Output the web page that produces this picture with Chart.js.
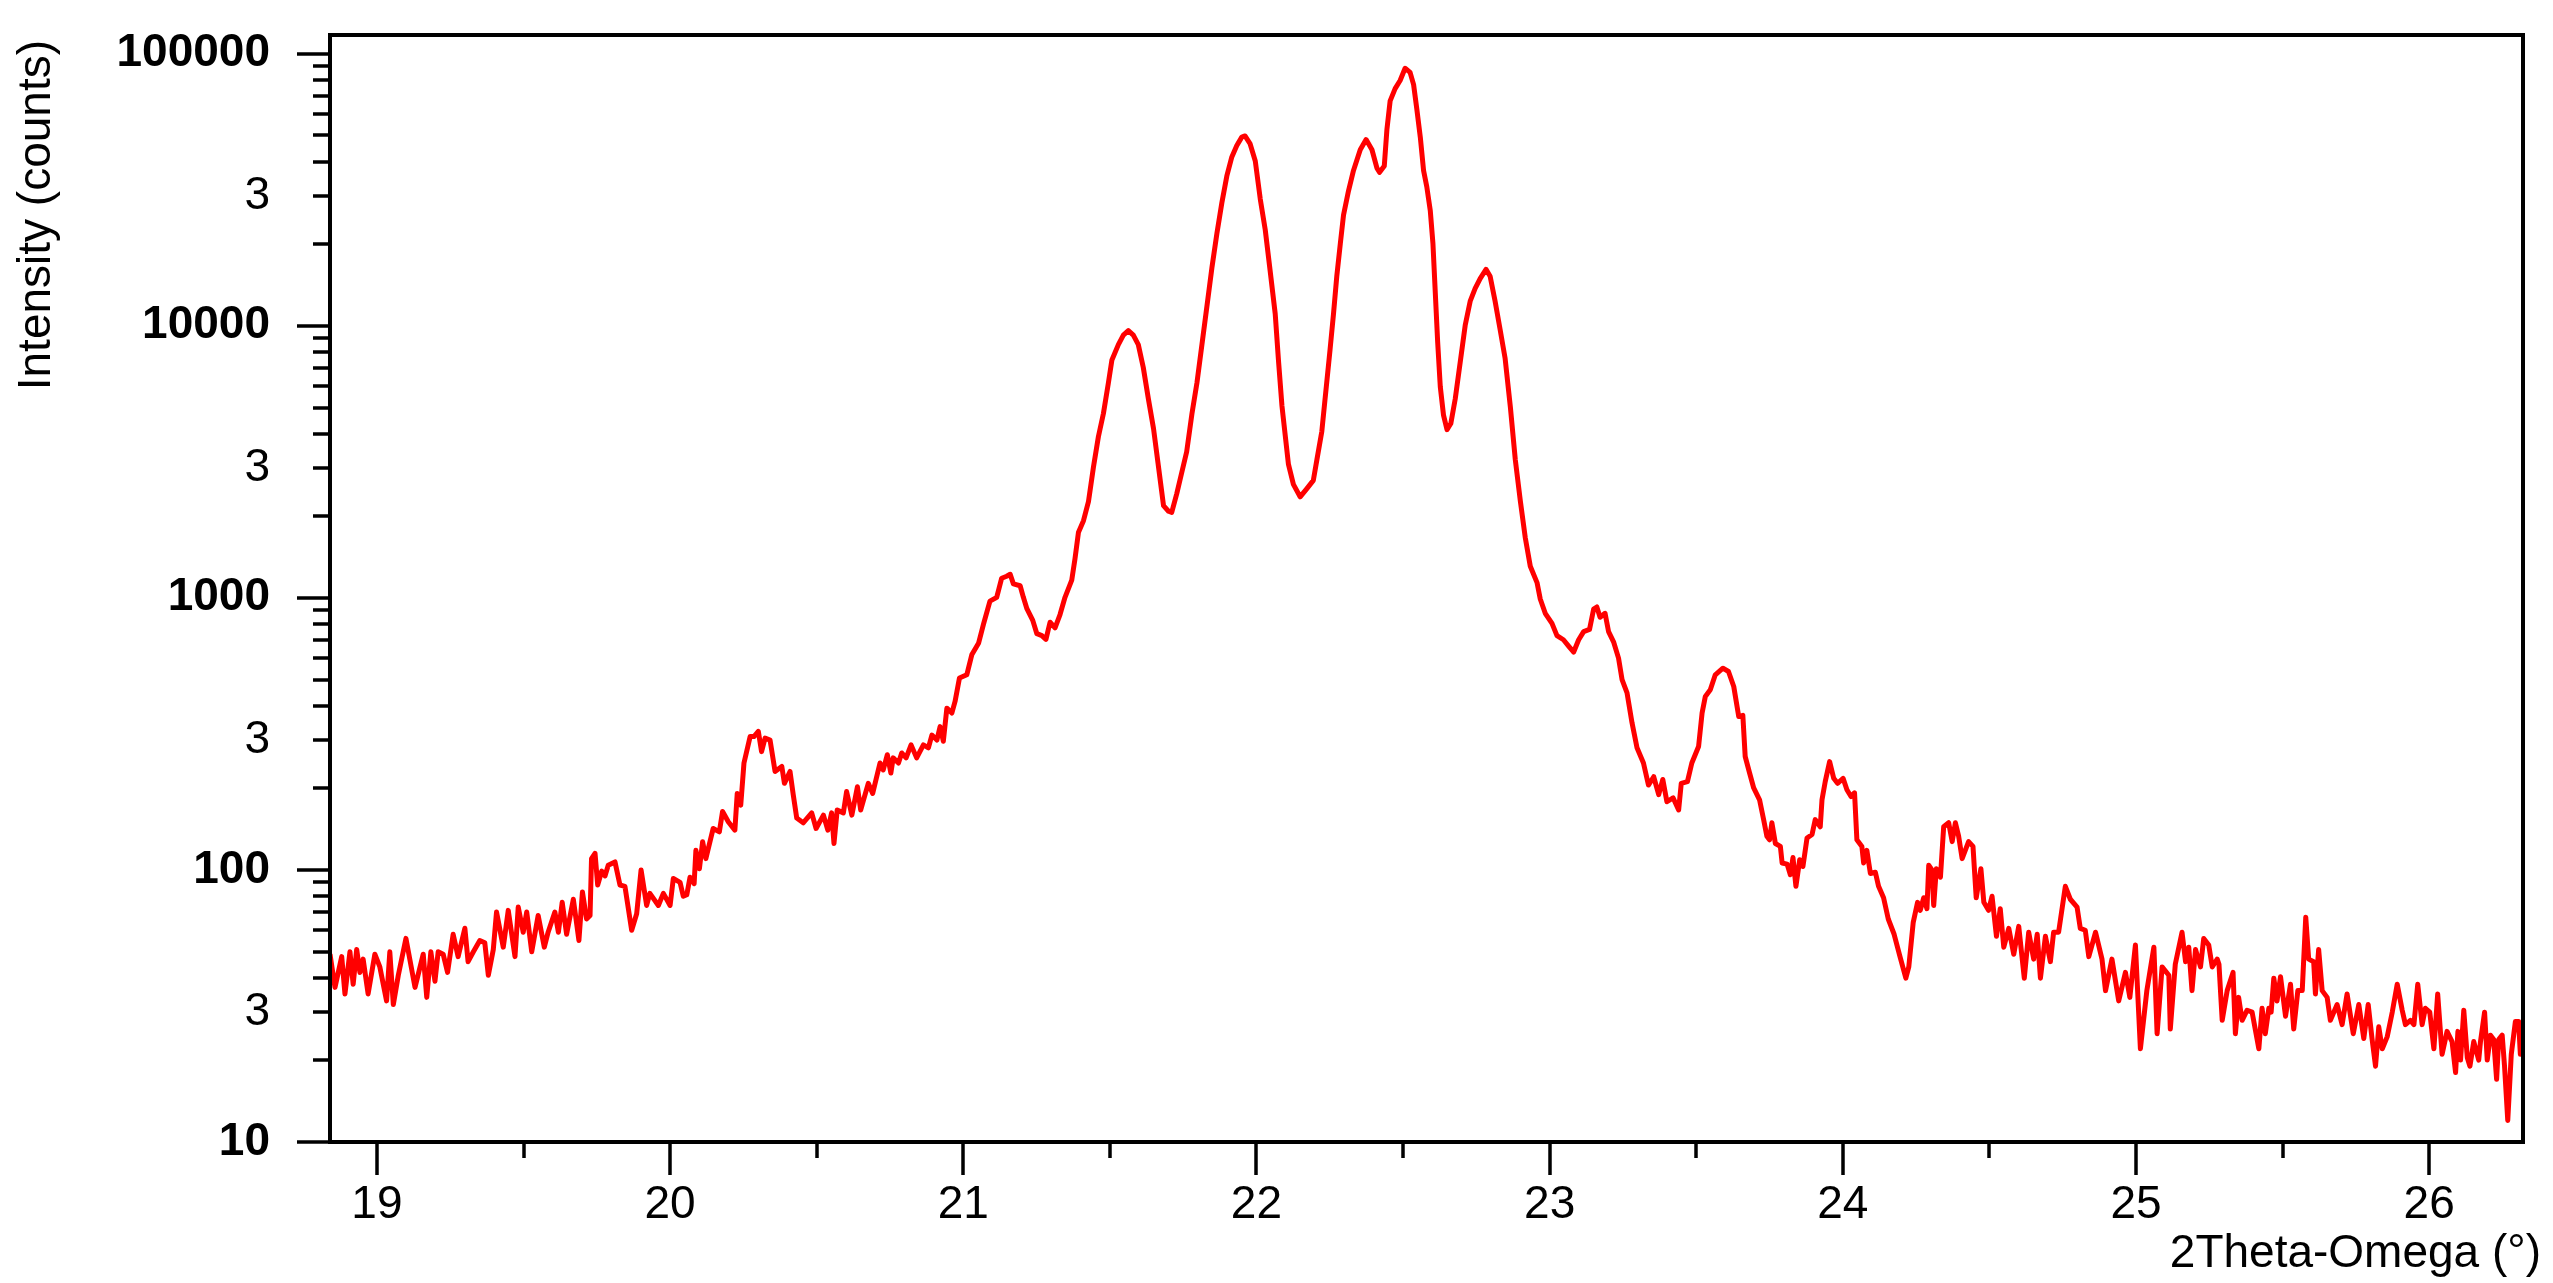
<!DOCTYPE html>
<html>
<head>
<meta charset="utf-8">
<title>2Theta-Omega scan</title>
<script src="https://cdn.jsdelivr.net/npm/chart.js@4.4.1/dist/chart.umd.min.js"></script>
<style>
  html, body { margin: 0; padding: 0; background: #fff; }
  canvas { display: block; }
</style>
</head>
<body>
<canvas id="scanChart" width="2553" height="1283"></canvas>
<script>
// 2Theta-Omega (deg) and intensity (counts)
const twoTheta = [
  18.840, 18.857, 18.880, 18.891, 18.908, 18.919, 18.931, 18.942, 18.953, 18.970,
  18.993, 19.010, 19.033, 19.044, 19.056, 19.073, 19.099, 19.130, 19.158, 19.170,
  19.184, 19.198, 19.209, 19.226, 19.241, 19.260, 19.277, 19.300, 19.311, 19.329,
  19.351, 19.368, 19.380, 19.397, 19.408, 19.431, 19.448, 19.471, 19.482, 19.499,
  19.511, 19.528, 19.550, 19.571, 19.584, 19.607, 19.619, 19.632, 19.647, 19.670,
  19.689, 19.701, 19.715, 19.727, 19.732, 19.744, 19.753, 19.767, 19.778, 19.789,
  19.812, 19.829, 19.846, 19.869, 19.886, 19.901, 19.920, 19.931, 19.960, 19.977,
  20.000, 20.011, 20.034, 20.045, 20.057, 20.068, 20.082, 20.088, 20.100, 20.111,
  20.122, 20.147, 20.168, 20.179, 20.199, 20.221, 20.229, 20.241, 20.252, 20.273,
  20.286, 20.301, 20.312, 20.324, 20.341, 20.358, 20.381, 20.390, 20.409, 20.420,
  20.432, 20.454, 20.483, 20.498, 20.523, 20.538, 20.551, 20.559, 20.570, 20.591,
  20.602, 20.620, 20.639, 20.650, 20.676, 20.691, 20.716, 20.727, 20.741, 20.753,
  20.761, 20.779, 20.790, 20.805, 20.822, 20.841, 20.864, 20.881, 20.893, 20.910,
  20.921, 20.932, 20.944, 20.961, 20.972, 20.987, 21.012, 21.029, 21.052, 21.069,
  21.091, 21.114, 21.131, 21.148, 21.160, 21.171, 21.194, 21.205, 21.217, 21.237,
  21.251, 21.268, 21.282, 21.296, 21.313, 21.330, 21.347, 21.370, 21.381, 21.393,
  21.410, 21.427, 21.444, 21.461, 21.478, 21.495, 21.507, 21.529, 21.546, 21.563,
  21.580, 21.597, 21.614, 21.631, 21.649, 21.666, 21.683, 21.700, 21.711, 21.728,
  21.745, 21.762, 21.780, 21.797, 21.814, 21.831, 21.848, 21.865, 21.882, 21.899,
  21.916, 21.933, 21.950, 21.961, 21.978, 21.996, 22.013, 22.030, 22.047, 22.064,
  22.075, 22.087, 22.109, 22.126, 22.149, 22.172, 22.194, 22.206, 22.223, 22.234,
  22.251, 22.263, 22.274, 22.286, 22.297, 22.314, 22.331, 22.354, 22.374, 22.394,
  22.411, 22.420, 22.436, 22.445, 22.456, 22.473, 22.490, 22.507, 22.524, 22.536,
  22.547, 22.559, 22.570, 22.581, 22.593, 22.602, 22.610, 22.618, 22.627, 22.638,
  22.650, 22.663, 22.678, 22.695, 22.712, 22.729, 22.746, 22.763, 22.783, 22.797,
  22.814, 22.831, 22.848, 22.866, 22.883, 22.900, 22.917, 22.934, 22.957, 22.968,
  22.985, 23.008, 23.025, 23.047, 23.064, 23.082, 23.099, 23.116, 23.136, 23.150,
  23.161, 23.172, 23.189, 23.201, 23.218, 23.235, 23.247, 23.264, 23.281, 23.298,
  23.320, 23.337, 23.355, 23.372, 23.386, 23.400, 23.421, 23.440, 23.449, 23.470,
  23.485, 23.508, 23.520, 23.531, 23.548, 23.565, 23.591, 23.610, 23.628, 23.645,
  23.659, 23.667, 23.682, 23.696, 23.716, 23.730, 23.741, 23.750, 23.758, 23.770,
  23.787, 23.793, 23.810, 23.821, 23.830, 23.840, 23.853, 23.864, 23.878, 23.895,
  23.906, 23.923, 23.929, 23.940, 23.955, 23.969, 23.982, 24.001, 24.014, 24.028,
  24.040, 24.048, 24.065, 24.071, 24.082, 24.094, 24.111, 24.122, 24.139, 24.155,
  24.175, 24.195, 24.215, 24.225, 24.240, 24.255, 24.264, 24.276, 24.287, 24.293,
  24.304, 24.310, 24.319, 24.333, 24.344, 24.361, 24.373, 24.384, 24.395, 24.407,
  24.429, 24.444, 24.455, 24.471, 24.481, 24.497, 24.509, 24.524, 24.537, 24.549,
  24.566, 24.583, 24.600, 24.619, 24.634, 24.651, 24.663, 24.674, 24.691, 24.708,
  24.719, 24.736, 24.759, 24.776, 24.799, 24.810, 24.827, 24.839, 24.862, 24.884,
  24.896, 24.918, 24.941, 24.964, 24.979, 24.998, 25.015, 25.037, 25.061, 25.072,
  25.089, 25.112, 25.117, 25.134, 25.157, 25.169, 25.180, 25.191, 25.203, 25.220,
  25.231, 25.248, 25.260, 25.277, 25.283, 25.294, 25.311, 25.331, 25.339, 25.350,
  25.362, 25.379, 25.396, 25.419, 25.430, 25.441, 25.453, 25.461, 25.470, 25.481,
  25.493, 25.510, 25.527, 25.538, 25.552, 25.567, 25.579, 25.589, 25.606, 25.612,
  25.623, 25.635, 25.652, 25.663, 25.686, 25.703, 25.720, 25.741, 25.760, 25.777,
  25.792, 25.805, 25.817, 25.828, 25.840, 25.857, 25.874, 25.891, 25.908, 25.919,
  25.936, 25.948, 25.961, 25.976, 25.987, 26.002, 26.016, 26.029, 26.044, 26.061,
  26.078, 26.090, 26.098, 26.107, 26.118, 26.130, 26.139, 26.152, 26.169, 26.175,
  26.189, 26.198, 26.209, 26.220, 26.230, 26.237, 26.249, 26.257, 26.268, 26.280,
  26.294, 26.305, 26.311, 26.316
];

const counts = [
  49, 37, 48, 35, 50, 38, 51, 42, 47, 35,
  49, 44, 33, 50, 32, 41, 56, 37, 49, 34,
  50, 39, 50, 49, 42, 58, 48, 61, 46, 50,
  55, 54, 41, 51, 70, 52, 71, 48, 73, 59,
  70, 50, 68, 52, 59, 70, 59, 76, 58, 78,
  55, 83, 66, 68, 110, 115, 88, 99, 95, 104,
  107, 88, 87, 60, 69, 100, 74, 82, 74, 82,
  74, 93, 90, 80, 81, 94, 89, 118, 101, 127,
  110, 142, 138, 164, 150, 140, 191, 173, 247, 309,
  309, 323, 272, 305, 300, 230, 240, 208, 230, 189,
  155, 149, 162, 142, 159, 140, 162, 125, 166, 162,
  194, 159, 202, 166, 208, 191, 247, 233, 265, 227,
  258, 247, 269, 258, 288, 258, 288, 281, 313, 300,
  336, 297, 393, 377, 416, 507, 521, 617, 680, 800,
  972, 1004, 1180, 1200, 1220, 1125, 1107, 1004, 912, 826,
  738, 726, 703, 813, 775, 868, 1004, 1161, 1389, 1742,
  1920, 2258, 3020, 3915, 4756, 6160, 7480, 8520, 9230, 9590,
  9230, 8520, 7020, 5410, 4180, 3020, 2180, 2080, 2060, 2410,
  2880, 3440, 4750, 6160, 8520, 11780, 16300, 21800, 28300, 35500,
  41700, 45900, 49300, 49800, 46700, 40300, 29200, 22500, 15800, 11050,
  7480, 5070, 3100, 2610, 2350, 2520, 2700, 3210, 4090, 5380,
  8150, 11100, 15200, 20000, 25500, 31300, 37200, 44300, 48300, 44300,
  37900, 36600, 38600, 52600, 67000, 74300, 79600, 88300, 85300, 76900,
  62500, 49100, 37200, 32400, 26400, 20000, 13200, 8730, 5970, 4690,
  4150, 4370, 5380, 7350, 10030, 12300, 13700, 14900, 16100, 15200,
  12300, 9690, 7600, 5030, 3210, 2270, 1660, 1306, 1137, 990,
  877, 805, 726, 701, 666, 632, 701, 751, 765, 908,
  925, 848, 877, 751, 689, 600, 500, 447, 347, 281,
  247, 205, 220, 189, 215, 178, 184, 166, 208, 211,
  247, 284, 377, 434, 459, 521, 551, 536, 472, 366,
  370, 261, 227, 200, 181, 153, 133, 129, 149, 125,
  122, 106, 105, 96, 111, 87, 109, 103, 131, 135,
  153, 144, 181, 211, 250, 217, 208, 217, 197, 186,
  192, 129, 122, 106, 118, 97, 98, 87, 79, 66,
  58, 48, 40, 44, 64, 76, 71, 79, 72, 104,
  100, 74, 101, 94, 144, 149, 127, 149, 133, 110,
  127, 122, 79, 101, 76, 71, 80, 57, 72, 52,
  61, 49, 62, 40, 59, 47, 58, 40, 57, 46,
  59, 59, 87, 78, 73, 61, 60, 48, 59, 47,
  36, 47, 33, 42, 34, 53, 22, 36, 52, 25,
  44, 41, 26, 45, 59, 46, 52, 36, 51, 44,
  56, 53, 44, 47, 45, 28, 36, 42, 25, 34,
  28, 30.5, 30, 22, 31, 25, 31, 30, 40, 33,
  40.5, 29, 38, 26, 36, 36, 67, 47, 46, 35,
  51, 36, 34, 28, 32, 27, 35, 25, 32, 24,
  32, 24, 19, 26.5, 22, 24.4, 30, 38, 30.5, 27,
  28, 27, 38, 27, 31, 30, 22, 35, 21, 25.5,
  23.4, 18, 25.5, 20, 30.5, 20.4, 19, 23.4, 20, 23.4,
  30, 20, 24.7, 23.8, 17, 23.8, 24.7, 19, 12, 21,
  27.7, 27.7, 21, 28
];

const xRange = [18.84, 26.32];
const yRange = [10, 117000];

const xLabelTicks = [19, 20, 21, 22, 23, 24, 25, 26];
const xMinorTicks = [19.5, 20.5, 21.5, 22.5, 23.5, 24.5, 25.5];

const yDecades = [10, 100, 1000, 10000, 100000];
const yLabelTicks = [10, 30, 100, 300, 1000, 3000, 10000, 30000, 100000];
const yTickLabels = ['10', '3', '100', '3', '1000', '3', '10000', '3', '100000'];

const FONT = '"Liberation Sans", Arial, sans-serif';

function isDecade(v) {
  const e = Math.log10(v);
  return Math.abs(e - Math.round(e)) < 1e-9;
}

function yTickValues() {
  const vals = [];
  yDecades.forEach(d => {
    for (let m = 1; m <= 9; m++) {
      const v = m * d;
      if (v >= yRange[0] && v <= yRange[1]) vals.push(v);
    }
  });
  return vals;
}

// no extra room for edge labels: the plot box is fixed by the padding below
function noEdgePadding(scale) {
  scale.paddingTop = 0;
  scale.paddingBottom = 0;
  scale.paddingLeft = 0;
  scale.paddingRight = 0;
}

// frame round the plot, tick marks of two lengths, axis titles
const frameAndTicks = {
  id: 'frameAndTicks',
  afterDatasetsDraw(chart) {
    const { ctx, chartArea: a, scales } = chart;
    ctx.save();
    ctx.strokeStyle = '#000';
    ctx.lineWidth = 3.5;

    scales.x.ticks.forEach(t => {
      const px = Math.round(scales.x.getPixelForValue(t.value));
      const len = Number.isInteger(t.value) ? 33 : 16;
      ctx.beginPath();
      ctx.moveTo(px, a.bottom);
      ctx.lineTo(px, a.bottom + len);
      ctx.stroke();
    });

    scales.y.ticks.forEach(t => {
      const py = Math.round(scales.y.getPixelForValue(t.value));
      const len = isDecade(t.value) ? 33 : 17;
      ctx.beginPath();
      ctx.moveTo(a.left, py);
      ctx.lineTo(a.left - len, py);
      ctx.stroke();
    });

    ctx.lineWidth = 4;
    ctx.strokeRect(a.left, a.top, a.right - a.left, a.bottom - a.top);

    ctx.fillStyle = '#000';
    ctx.font = '46px ' + FONT;
    ctx.textAlign = 'right';
    ctx.textBaseline = 'alphabetic';
    ctx.fillText('2Theta-Omega (°)', 2541, 1267);

    ctx.translate(50, 40);
    ctx.rotate(-Math.PI / 2);
    ctx.fillText('Intensity (counts)', 0, 0);
    ctx.restore();
  }
};

new Chart(document.getElementById('scanChart'), {
  type: 'line',
  data: {
    datasets: [{
      data: twoTheta.map((x, i) => ({ x, y: counts[i] })),
      borderColor: '#ff0000',
      borderWidth: 5,
      pointRadius: 0,
      tension: 0,
      borderJoinStyle: 'round',
      fill: false
    }]
  },
  options: {
    responsive: false,
    devicePixelRatio: 1,
    animation: false,
    layout: { padding: { top: 35, right: 30, left: 0, bottom: 0 } },
    plugins: {
      legend: { display: false },
      tooltip: { enabled: false }
    },
    scales: {
      x: {
        type: 'linear',
        min: xRange[0],
        max: xRange[1],
        afterBuildTicks: scale => {
          scale.ticks = xLabelTicks.concat(xMinorTicks).sort((p, q) => p - q).map(v => ({ value: v }));
        },
        afterFit: scale => {
          scale.height = 141;
          noEdgePadding(scale);
        },
        border: { display: false },
        grid: { drawOnChartArea: false, drawTicks: true, tickLength: 33, tickColor: 'rgba(0,0,0,0)' },
        ticks: {
          autoSkip: false,
          maxRotation: 0,
          padding: 3,
          color: '#000',
          font: { family: FONT, size: 46 },
          callback: v => (xLabelTicks.includes(v) ? String(v) : '')
        }
      },
      y: {
        type: 'logarithmic',
        min: yRange[0],
        max: yRange[1],
        afterBuildTicks: scale => {
          scale.ticks = yTickValues().map(v => ({ value: v }));
        },
        afterFit: scale => {
          scale.width = 330;
          noEdgePadding(scale);
        },
        border: { display: false },
        grid: { drawOnChartArea: false, drawTicks: true, tickLength: 33, tickColor: 'rgba(0,0,0,0)' },
        ticks: {
          autoSkip: false,
          padding: 27,
          color: '#000',
          font: ctx => ({
            family: FONT,
            size: 46,
            weight: ctx.tick && isDecade(ctx.tick.value) ? 'bold' : 'normal'
          }),
          callback: v => {
            const i = yLabelTicks.findIndex(t => Math.abs(t - v) < t * 1e-6);
            return i >= 0 ? yTickLabels[i] : '';
          }
        }
      }
    }
  },
  plugins: [frameAndTicks]
});
</script>
</body>
</html>
